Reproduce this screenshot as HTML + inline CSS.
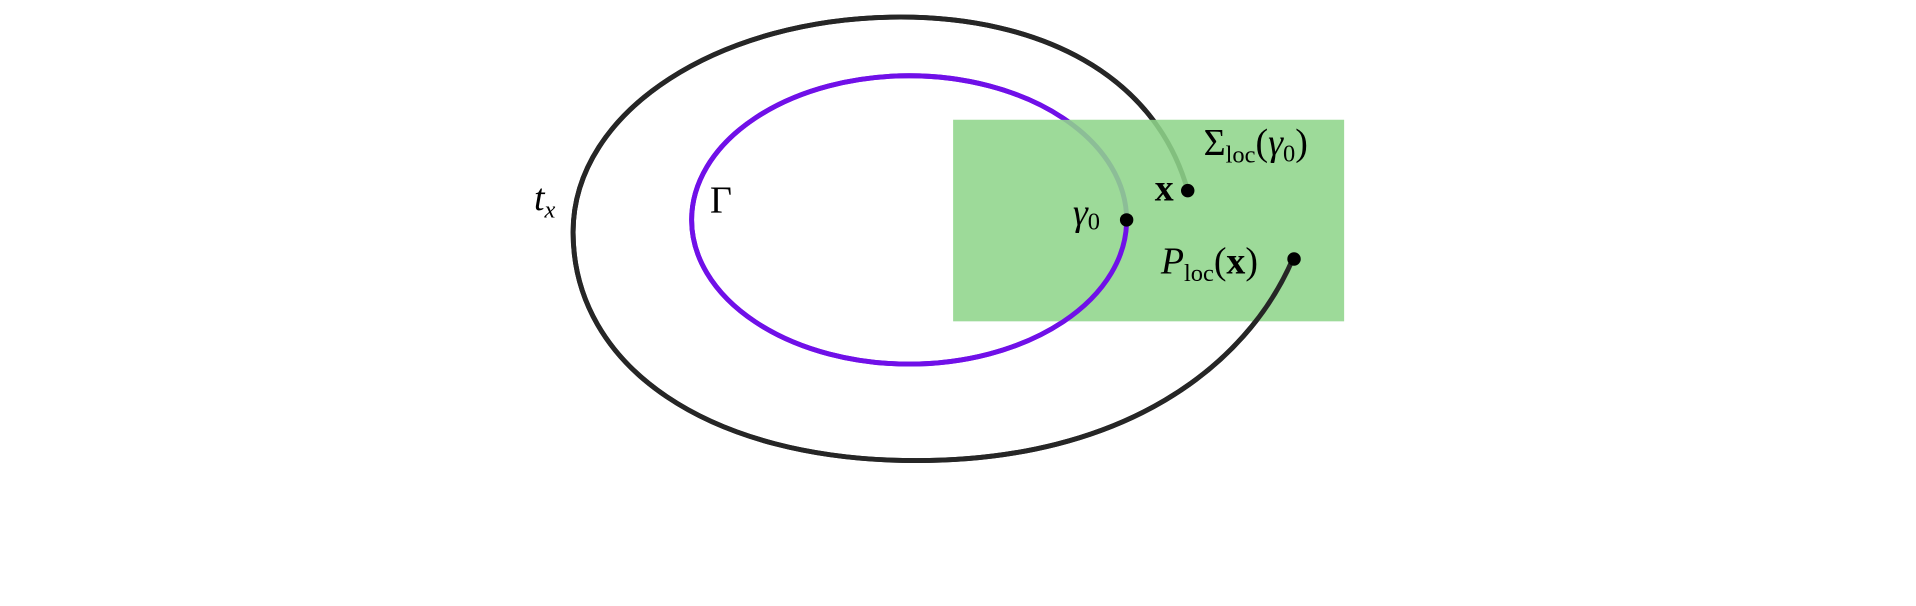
<!DOCTYPE html>
<html><head><style>html,body{margin:0;padding:0;background:#fff;}svg{display:block}</style></head>
<body>
<svg width="1916" height="606" viewBox="0 0 1568 496" preserveAspectRatio="none" xmlns="http://www.w3.org/2000/svg">
<defs>
<clipPath id="c"><path clip-rule="evenodd" d="M0,0H1568V496H0Z M780,98H1100V183H780Z"/></clipPath>
</defs>
<g fill="none" stroke-width="4">
<ellipse cx="744" cy="180" rx="178" ry="118" stroke="#7010e8"/>
<path d="M1058,212 C1020,300 920,377 750,377 C580,377 469,300 469,190 C469,90 590,14 737,14 C850,14 945,60 972,156" stroke="#262626"/>
</g>
<rect x="780" y="98" width="320" height="165" fill="#8fd58b" opacity="0.88"/>
<g clip-path="url(#c)" fill="none" stroke-width="4">
<ellipse cx="744" cy="180" rx="178" ry="118" stroke="#7010e8"/>
<path d="M1058,212 C1020,300 920,377 750,377 C580,377 469,300 469,190 C469,90 590,14 737,14 C850,14 945,60 972,156" stroke="#262626"/>
</g>
<circle cx="922" cy="180" r="5.5" fill="#000"/>
<circle cx="972" cy="156" r="5.5" fill="#000"/>
<circle cx="1059" cy="212" r="5.5" fill="#000"/>
<g font-family="Liberation Serif, serif" font-size="31" fill="#000">
<text x="437" y="172" font-style="italic">t<tspan font-size="20" dy="6">x</tspan></text>
<text x="581" y="174">Γ</text>
<text x="878" y="184" font-style="italic">γ<tspan font-size="20" dy="4" font-style="normal">0</tspan></text>
<text x="945" y="164" font-weight="bold">x</text>
<text x="985" y="127">Σ<tspan font-size="20" dy="6">loc</tspan><tspan dy="-6">(</tspan><tspan font-style="italic">γ</tspan><tspan font-size="20" dy="5">0</tspan><tspan dy="-5">)</tspan></text>
<text x="950" y="224"><tspan font-style="italic">P</tspan><tspan font-size="20" dy="6">loc</tspan><tspan dy="-6">(</tspan><tspan font-weight="bold">x</tspan>)</text>
</g>
</svg>
</body></html>
